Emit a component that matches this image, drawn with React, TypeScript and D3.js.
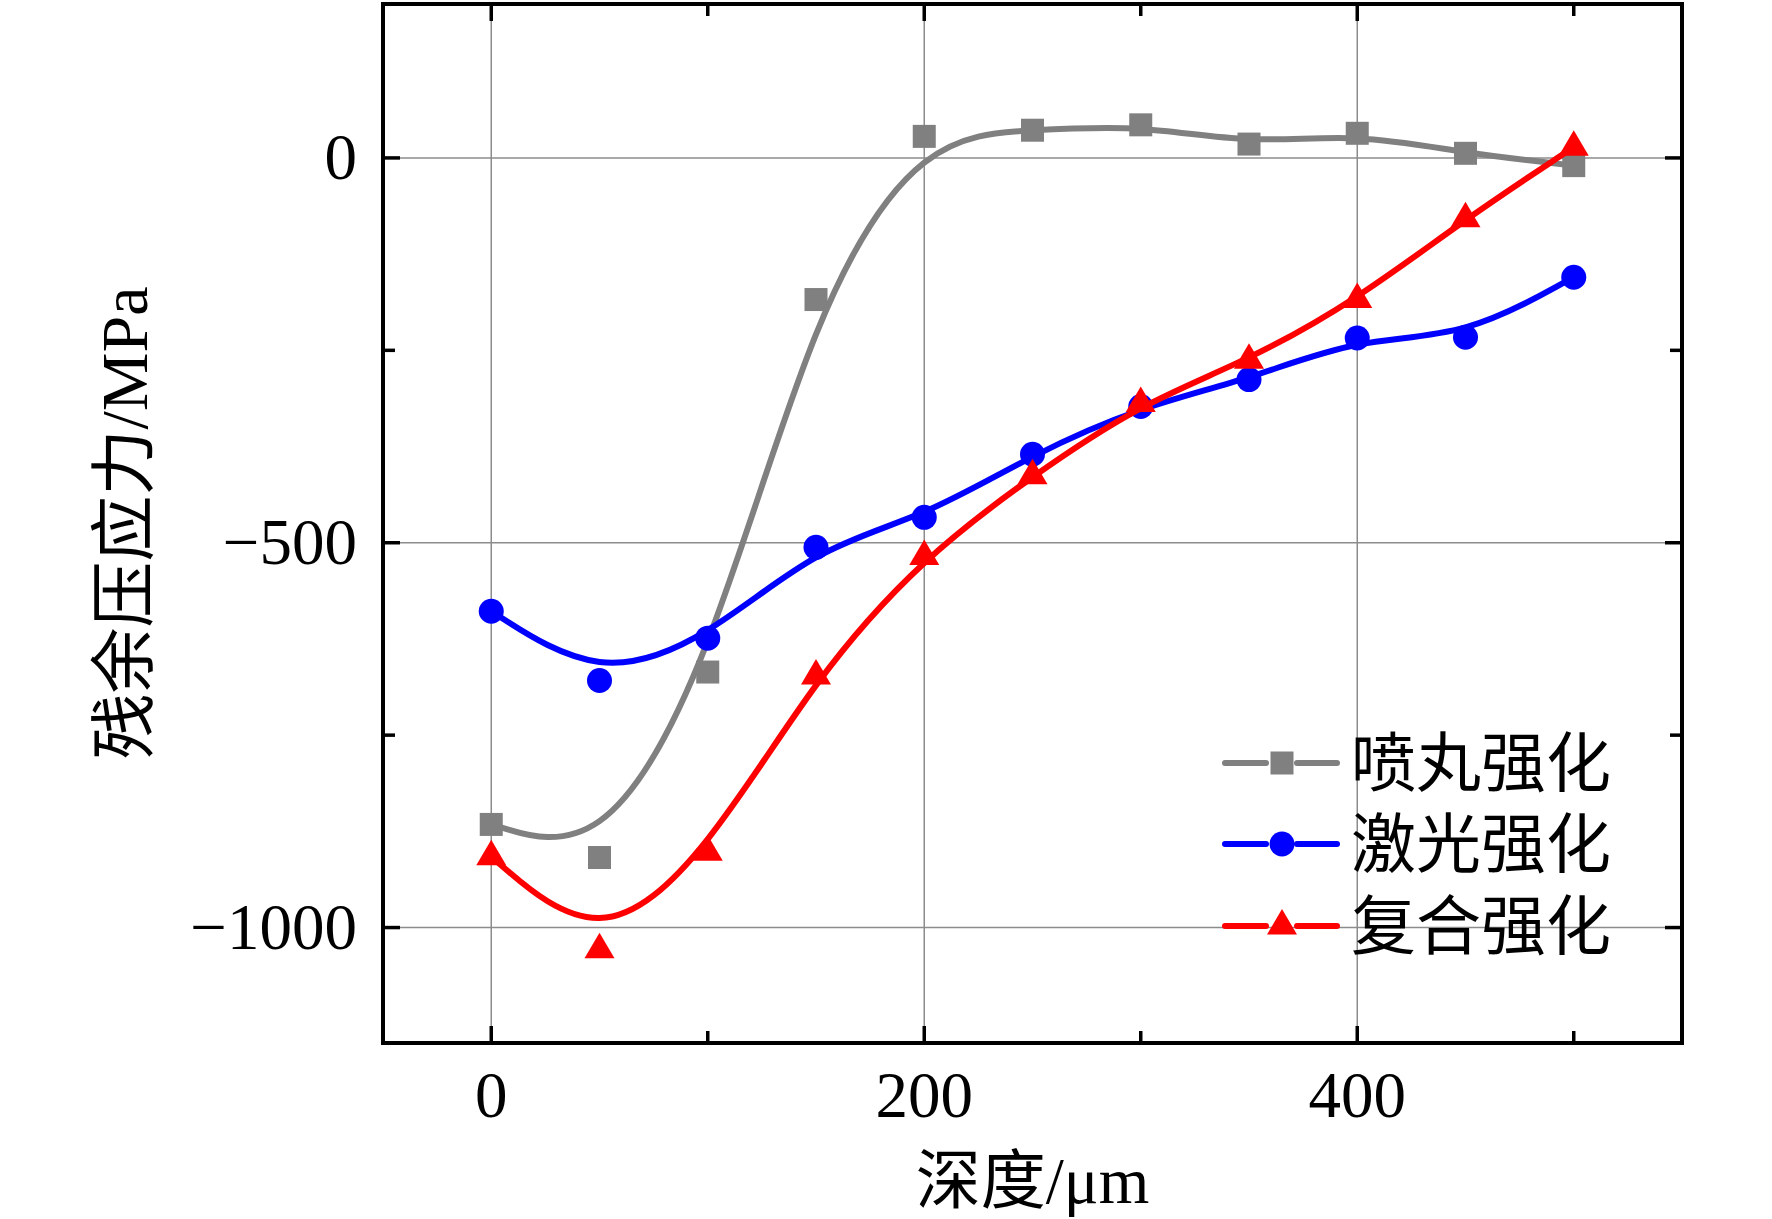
import { useEffect, useRef } from "react"
import * as d3 from "d3"

// depth in µm
const depth = [0, 50, 100, 150, 200, 250, 300, 350, 400, 450, 500]

// residual compressive stress in MPa
const shotPeening = [-866, -909, -668, -184, 28, 36, 43, 18, 32, 6, -10]
const laserPeening = [-589, -679, -624, -506, -467, -385, -323, -288, -234, -233, -155]
const hybridPeening = [-908, -1029, -902, -673, -518, -413, -319, -263, -184, -79, 14]

const seriesNames = ["喷丸强化", "激光强化", "复合强化"]

const xMajorTicks = [0, 200, 400]
const xMinorTicks = [100, 300, 500]
const yMajorTicks = [0, -500, -1000]
const yMinorTicks = [-250, -750]

const xTitle = "深度/μm"
const yTitle = "残余压应力/MPa"

type Pt = { x: number; y: number }

export default function App() {
  const svgRef = useRef<SVGSVGElement>(null)

  useEffect(() => {
    if (!svgRef.current) return
    d3.select(svgRef.current).selectAll("*").remove()

    const width = 1772
    const height = 1219
    const margin = { top: 4, right: 90, bottom: 176, left: 383 }
    const latin = "'Liberation Serif', 'Times New Roman', 'Noto Sans CJK SC', serif"

    const svg = d3.select(svgRef.current).attr("width", width).attr("height", height)

    const x = d3.scaleLinear().domain([-50, 550]).range([margin.left, width - margin.right])
    const y = d3.scaleLinear().domain([-1150, 200]).range([height - margin.bottom, margin.top])

    const x0 = x.range()[0]
    const x1 = x.range()[1]
    const y0 = y.range()[0]
    const y1 = y.range()[1]

    // grid lines at major ticks
    const grid = svg.append("g").attr("stroke", "#8c8c8c").attr("stroke-width", 1.5)
    xMajorTicks.forEach((t) => {
      grid.append("line").attr("x1", x(t)).attr("x2", x(t)).attr("y1", y1).attr("y2", y0)
    })
    yMajorTicks.forEach((t) => {
      grid.append("line").attr("x1", x0).attr("x2", x1).attr("y1", y(t)).attr("y2", y(t))
    })

    const series = [
      { name: seriesNames[0], values: shotPeening, color: "#808080", shape: "square" },
      { name: seriesNames[1], values: laserPeening, color: "#0000ff", shape: "circle" },
      { name: seriesNames[2], values: hybridPeening, color: "#ff0000", shape: "triangle" },
    ]

    const line = d3
      .line<Pt>()
      .x((d) => x(d.x))
      .y((d) => y(d.y))
      .curve(d3.curveBasis)

    const drawMarker = (g: d3.Selection<SVGGElement, unknown, null, undefined>, shape: string, color: string, cx: number, cy: number) => {
      if (shape === "square") {
        g.append("rect").attr("x", cx - 11.5).attr("y", cy - 11.5).attr("width", 23).attr("height", 23).attr("fill", color)
      } else if (shape === "circle") {
        g.append("circle").attr("cx", cx).attr("cy", cy).attr("r", 12.5).attr("fill", color)
      } else {
        g.append("path")
          .attr("d", `M${cx},${cy - 17}L${cx + 15},${cy + 8.5}L${cx - 15},${cy + 8.5}Z`)
          .attr("fill", color)
      }
    }

    // clip curves to the frame
    svg
      .append("clipPath")
      .attr("id", "plot-clip")
      .append("rect")
      .attr("x", x0)
      .attr("y", y1)
      .attr("width", x1 - x0)
      .attr("height", y0 - y1)

    series.forEach((s) => {
      const pts: Pt[] = depth.map((d, i) => ({ x: d, y: s.values[i] }))
      const g = svg.append("g").attr("clip-path", "url(#plot-clip)")
      g.append("path")
        .datum(pts)
        .attr("fill", "none")
        .attr("stroke", s.color)
        .attr("stroke-width", 6)
        .attr("stroke-linejoin", "round")
        .attr("d", line)
      pts.forEach((p) => drawMarker(g, s.shape, s.color, x(p.x), y(p.y)))
    })

    // frame
    svg
      .append("rect")
      .attr("x", x0)
      .attr("y", y1)
      .attr("width", x1 - x0)
      .attr("height", y0 - y1)
      .attr("fill", "none")
      .attr("stroke", "#000")
      .attr("stroke-width", 4)

    // ticks on all four sides, pointing inward
    const ticks = svg.append("g").attr("stroke", "#000").attr("stroke-width", 3.5)
    const xTick = (t: number, len: number) => {
      ticks.append("line").attr("x1", x(t)).attr("x2", x(t)).attr("y1", y0).attr("y2", y0 - len)
      ticks.append("line").attr("x1", x(t)).attr("x2", x(t)).attr("y1", y1).attr("y2", y1 + len)
    }
    const yTick = (t: number, len: number) => {
      ticks.append("line").attr("x1", x0).attr("x2", x0 + len).attr("y1", y(t)).attr("y2", y(t))
      ticks.append("line").attr("x1", x1).attr("x2", x1 - len).attr("y1", y(t)).attr("y2", y(t))
    }
    xMajorTicks.forEach((t) => xTick(t, 17))
    xMinorTicks.forEach((t) => xTick(t, 12))
    yMajorTicks.forEach((t) => yTick(t, 17))
    yMinorTicks.forEach((t) => yTick(t, 12))

    // tick labels
    const fmt = (v: number) => (v < 0 ? "\u2212" + Math.abs(v) : String(v))
    svg
      .append("g")
      .selectAll("text")
      .data(xMajorTicks)
      .enter()
      .append("text")
      .attr("x", (d) => x(d))
      .attr("y", y0 + 74)
      .attr("text-anchor", "middle")
      .attr("font-family", latin)
      .attr("font-size", 65)
      .attr("fill", "#000")
      .text(fmt)

    svg
      .append("g")
      .selectAll("text")
      .data(yMajorTicks)
      .enter()
      .append("text")
      .attr("x", x0 - 26)
      .attr("y", (d) => y(d))
      .attr("dy", "0.33em")
      .attr("text-anchor", "end")
      .attr("font-family", latin)
      .attr("font-size", 65)
      .attr("fill", "#000")
      .text(fmt)

    // axis titles
    svg
      .append("text")
      .attr("x", (x0 + x1) / 2)
      .attr("y", 1203)
      .attr("text-anchor", "middle")
      .attr("font-family", latin)
      .attr("font-size", 65)
      .attr("fill", "#000")
      .text(xTitle)

    svg
      .append("text")
      .attr("transform", `translate(147, ${523}) rotate(-90)`)
      .attr("text-anchor", "middle")
      .attr("font-family", latin)
      .attr("font-size", 66)
      .attr("fill", "#000")
      .text(yTitle)

    // legend
    const legend = svg.append("g")
    const rowY = [763, 844, 926]
    series.forEach((s, i) => {
      const ly = rowY[i]
      const g = legend.append("g")
      g.append("line")
        .attr("x1", 1225).attr("x2", 1266).attr("y1", ly).attr("y2", ly)
        .attr("stroke", s.color).attr("stroke-width", 6).attr("stroke-linecap", "round")
      g.append("line")
        .attr("x1", 1297).attr("x2", 1337).attr("y1", ly).attr("y2", ly)
        .attr("stroke", s.color).attr("stroke-width", 6).attr("stroke-linecap", "round")
      drawMarker(g, s.shape, s.color, 1282, ly)
      g.append("text")
        .attr("x", 1351)
        .attr("y", ly)
        .attr("dy", "0.36em")
        .attr("font-family", "'Noto Sans CJK SC', sans-serif")
        .attr("font-size", 65)
        .attr("fill", "#000")
        .text(s.name)
    })
  }, [])

  return (
    <div style={{ position: "absolute", left: 0, top: 0, background: "#fff" }}>
      <svg ref={svgRef} style={{ display: "block" }} />
    </div>
  )
}
